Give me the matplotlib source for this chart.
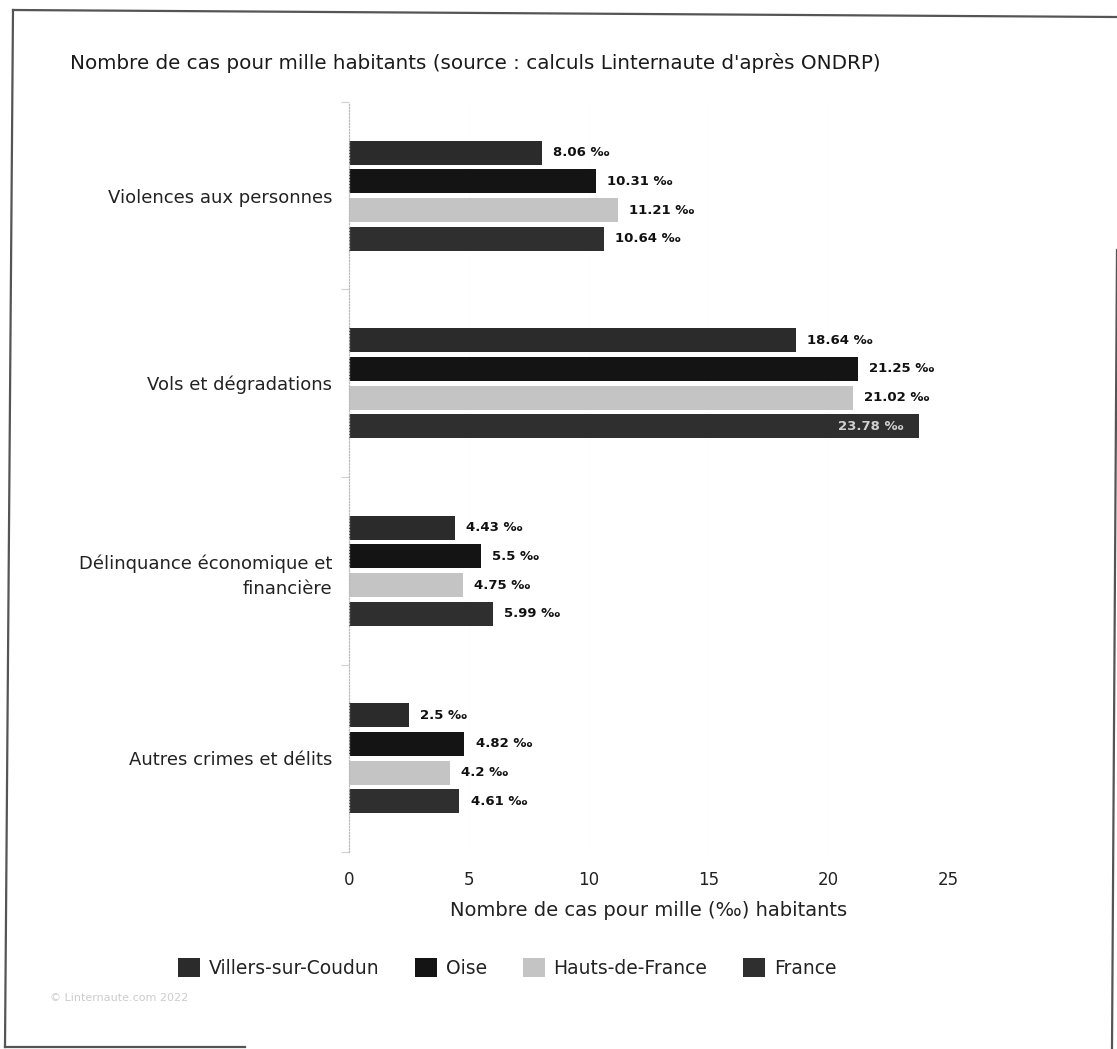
import numpy as np
import matplotlib
matplotlib.use("Agg")
import matplotlib.pyplot as plt
from matplotlib.lines import Line2D
from matplotlib.patches import Patch

plt.rcParams['font.family'] = ['DejaVu Sans']

# data
categories = ["Violences aux personnes", "Vols et dégradations",
              "Délinquance économique et\nfinancière", "Autres crimes et délits"]
series_names = ["Villers-sur-Coudun", "Oise", "Hauts-de-France", "France"]
villers = [8.06, 18.64, 4.43, 2.5]
oise = [10.31, 21.25, 5.5, 4.82]
hauts_de_france = [11.21, 21.02, 4.75, 4.2]
france = [10.64, 23.78, 5.99, 4.61]
x_ticks = [0, 5, 10, 15, 20, 25]

colors = ["#2b2b2b", "#141414", "#c4c4c4", "#2f2f2f"]
series = [villers, oise, hauts_de_france, france]

W, H = 1117, 1049
fig = plt.figure(figsize=(W / 100, H / 100), dpi=100)
ax = fig.add_axes([349 / W, 1 - 852 / H, (948 - 349) / W, (852 - 102) / H])

y = np.arange(len(categories))
pitch = 0.153
bar_h = 0.128
for i, (vals, col) in enumerate(zip(series, colors)):
    pos = y + (i - 1.5) * pitch
    bars = ax.barh(pos, vals, height=bar_h, color=col, edgecolor="none")
    for b, v in zip(bars, vals):
        label = f"{v:g} ‰"
        cy = b.get_y() + b.get_height() / 2
        if v > 23:
            # does not fit on the right, goes inside the bar
            ax.annotate(label, (v, cy), xytext=(-11, 0), textcoords="offset points",
                        ha="right", va="center", fontsize=9.5, fontweight="bold",
                        color="#d0d0d0")
        else:
            ax.annotate(label, (v, cy), xytext=(8, 0), textcoords="offset points",
                        ha="left", va="center", fontsize=9.5, fontweight="bold",
                        color="#111111")

ax.set_xlim(0, 25)
ax.set_ylim(len(categories) - 0.5, -0.5)
ax.set_xticks(x_ticks)
ax.set_xticklabels([str(t) for t in x_ticks], fontsize=12, color="#222222")
ax.set_yticks(y)
ax.set_yticklabels(categories, fontsize=13, color="#222222", linespacing=1.5)
ax.set_yticks(np.arange(len(categories) + 1) - 0.5, minor=True)
ax.tick_params(axis="y", which="major", length=0, pad=12)
ax.tick_params(axis="y", which="minor", length=6, color="#d0d0d0", width=0.8)
ax.tick_params(axis="x", length=0, pad=14)
for lbl in ax.get_yticklabels():
    lbl.set_horizontalalignment("right")

for s in ["top", "right", "bottom"]:
    ax.spines[s].set_visible(False)
ax.spines["left"].set_color("#bbbbbb")
ax.spines["left"].set_linestyle((0, (1, 1.5)))
ax.spines["left"].set_linewidth(0.9)
ax.grid(axis="x", color="#f5f5f5", linewidth=0.5, linestyle=(0, (1, 2)))
ax.set_axisbelow(True)

ax.set_xlabel("Nombre de cas pour mille (‰) habitants", fontsize=14,
              color="#222222", labelpad=8)

fig.text(70 / W, 1 - 63 / H,
         "Nombre de cas pour mille habitants (source : calculs Linternaute d'après ONDRP)",
         fontsize=14.3, color="#1a1a1a", ha="left", va="center")

handles = [Patch(facecolor=c, edgecolor="none") for c in colors]
fig.legend(handles, series_names, loc="center", bbox_to_anchor=(507 / W, 1 - 968 / H),
           ncol=4, frameon=False, fontsize=13.5, handlelength=1.2, handleheight=1.2,
           handletextpad=0.45, columnspacing=1.9, labelcolor="#222222")

fig.text(50 / W, 1 - 998 / H, "© Linternaute.com 2022", fontsize=8,
         color="#cccccc", ha="left", va="center")

# scanned frame around the picture
frame = [((13, 10), (1117, 17)), ((13, 10), (5, 1047)),
         ((5, 1047), (245, 1047)), ((1117, 250), (1112, 1049))]
for (x0, y0), (x1, y1) in frame:
    fig.add_artist(Line2D([x0 / W, x1 / W], [1 - y0 / H, 1 - y1 / H],
                          transform=fig.transFigure, color="#555555", linewidth=1.6))

fig.savefig("out.png", dpi=100, facecolor="white")
